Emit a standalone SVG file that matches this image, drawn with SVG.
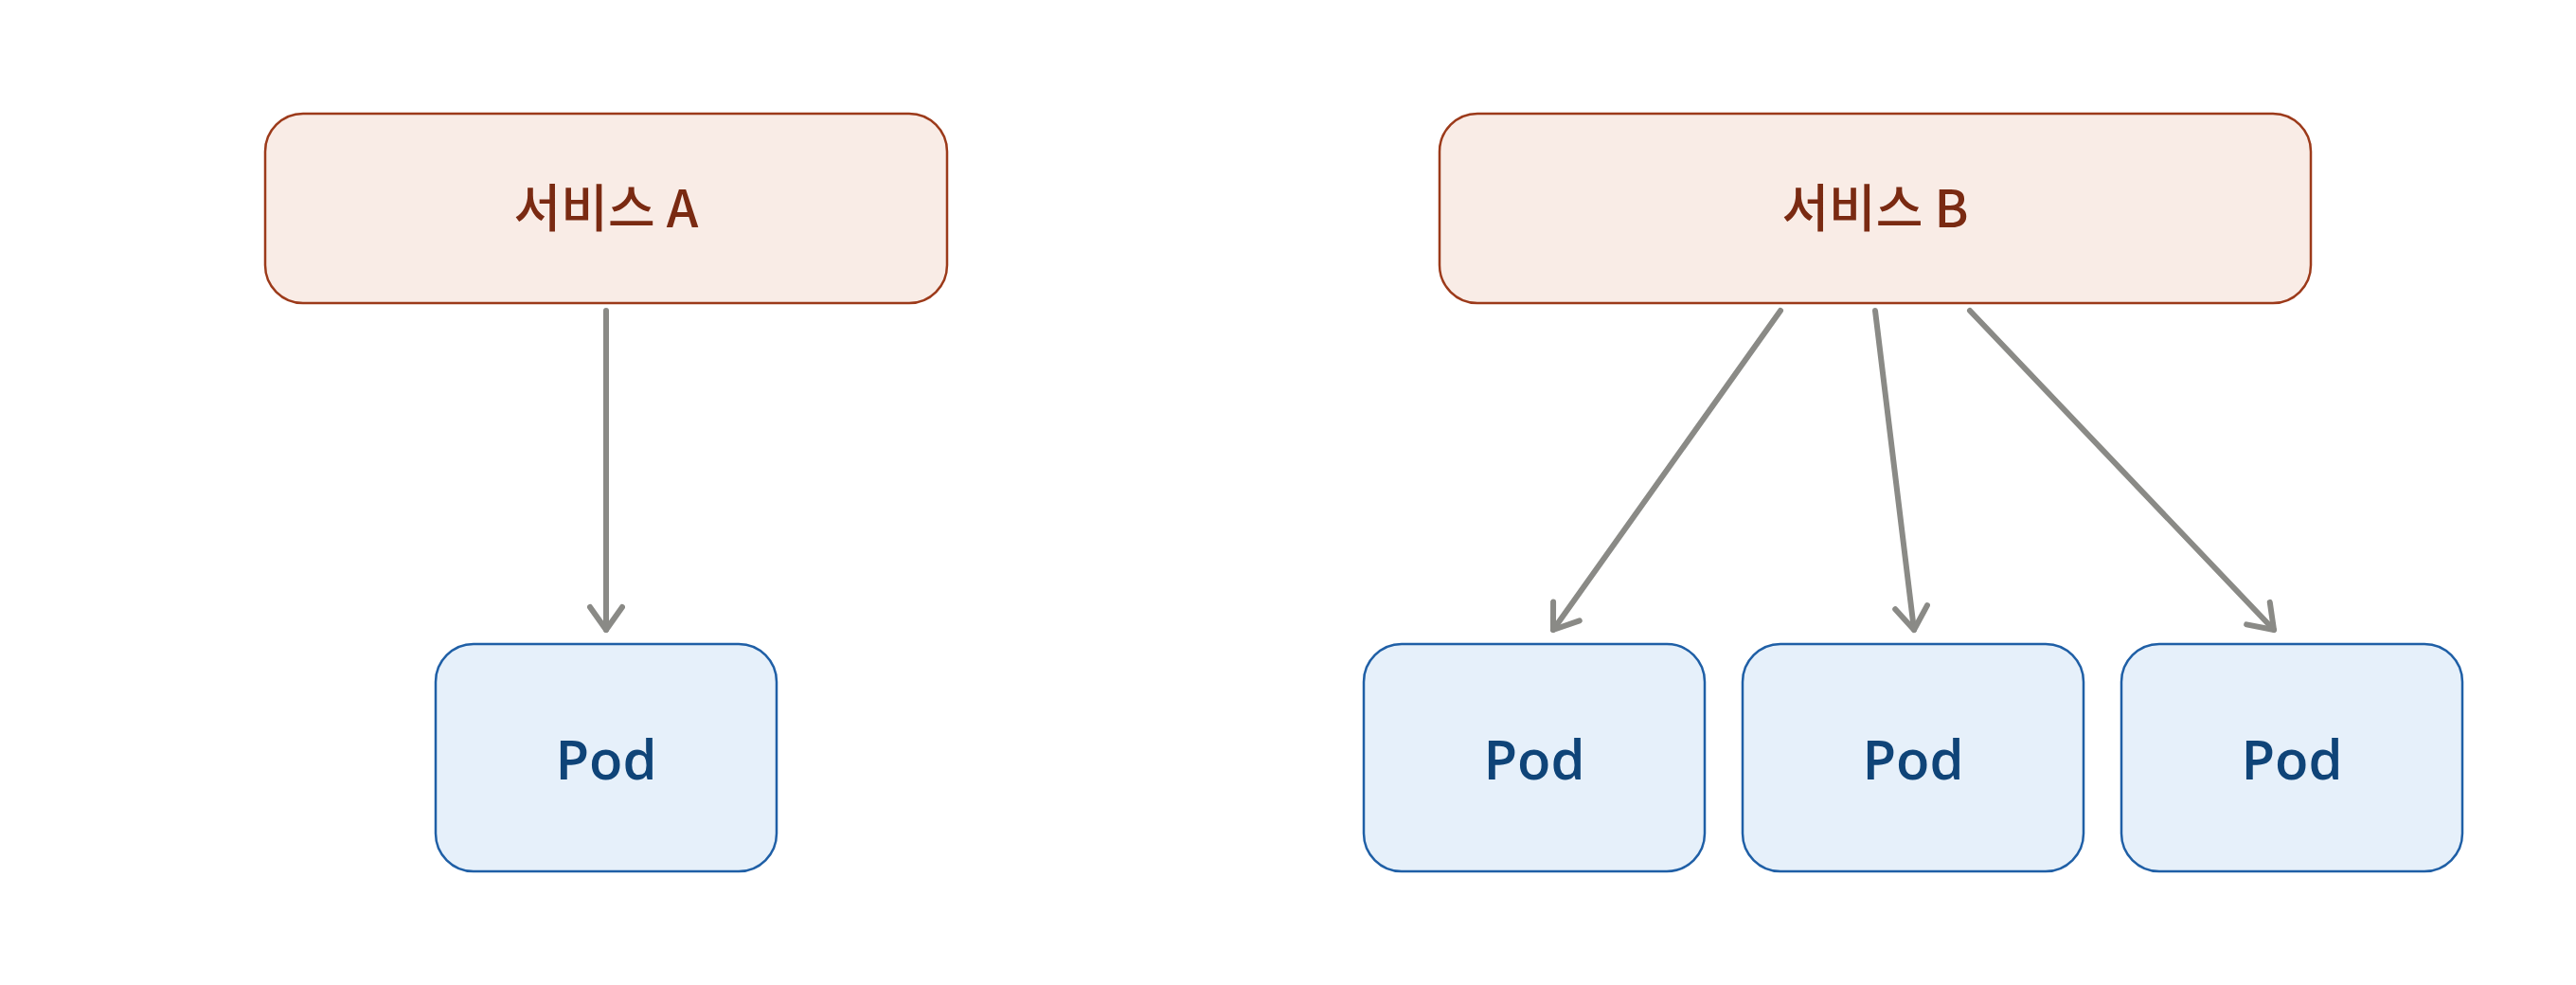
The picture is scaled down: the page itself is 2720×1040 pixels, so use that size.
<svg xmlns="http://www.w3.org/2000/svg" width="2720" height="1040" viewBox="0 0 2720 1040">
<defs>
<style>
.svc rect{fill:#f9ece6;stroke:#9c3a1a;stroke-width:2.5}
.svc text{fill:#7a2a12;font-family:"Noto Sans CJK KR","Noto Sans",sans-serif;font-size:54px;font-weight:500;text-anchor:middle}
.pod rect{fill:#e6f0fa;stroke:#1f5fa6;stroke-width:2.5}
.pod text{fill:#0f4478;font-family:"Open Sans","Noto Sans",sans-serif;font-size:58px;font-weight:600;text-anchor:middle}
.edge{stroke:#8a8a86;stroke-width:6;fill:none;stroke-linecap:round;marker-end:url(#arr)}
</style>
<marker id="arr" markerUnits="userSpaceOnUse" markerWidth="40" markerHeight="40" viewBox="0 0 40 40" refX="30" refY="20" orient="auto">
<path d="M6,3 L30,20 L6,37" fill="none" stroke="#8a8a86" stroke-width="6" stroke-linecap="round" stroke-linejoin="round"/>
</marker>
</defs>
<rect width="2720" height="1040" fill="#ffffff"/>
<g id="connectors">
<line class="edge" x1="640" y1="328" x2="640" y2="665"/>
<line class="edge" x1="1880" y1="328" x2="1640" y2="665"/>
<line class="edge" x1="1980" y1="328" x2="2021" y2="665"/>
<line class="edge" x1="2080" y1="328" x2="2401" y2="665"/>
</g>
<g id="serviceA" class="svc">
<rect x="280" y="120" width="720" height="200" rx="40"/>
<text x="640" y="240">서비스 A</text>
</g>
<g id="serviceB" class="svc">
<rect x="1520" y="120" width="920" height="200" rx="40"/>
<text x="1980" y="240">서비스 B</text>
</g>
<g id="podA" class="pod">
<rect x="460" y="680" width="360" height="240" rx="40"/>
<text x="640" y="823">Pod</text>
</g>
<g id="podB1" class="pod">
<rect x="1440" y="680" width="360" height="240" rx="40"/>
<text x="1620" y="823">Pod</text>
</g>
<g id="podB2" class="pod">
<rect x="1840" y="680" width="360" height="240" rx="40"/>
<text x="2020" y="823">Pod</text>
</g>
<g id="podB3" class="pod">
<rect x="2240" y="680" width="360" height="240" rx="40"/>
<text x="2420" y="823">Pod</text>
</g>
</svg>
